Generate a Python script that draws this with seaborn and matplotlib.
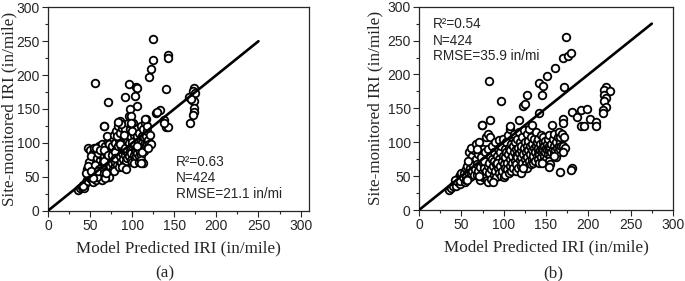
import numpy as np
import pandas as pd
import matplotlib
matplotlib.use("Agg")
import matplotlib.pyplot as plt
import seaborn as sns
from matplotlib.ticker import MultipleLocator

sns.set_style("ticks")
plt.rcParams["font.family"] = ["Liberation Sans", "DejaVu Sans"]

# ***** data read off the picture (predicted, observed) ***** #
# panel (a): main body around the 1:1 line
body_a = [
    (36, 31), (38, 33), (40, 35), (42, 38), (43, 34), (44, 40), (45, 42), (41, 36),
    (46, 45), (47, 50), (48, 44), (48, 55), (49, 60), (50, 48), (50, 65), (51, 52),
    (52, 70), (52, 45), (53, 58), (54, 62), (55, 50), (55, 75), (47, 92), (50, 90),
    (53, 85), (54, 42), (46, 62), (49, 72), (51, 80), (55, 93), (45, 55), (47, 66),
    (56, 55), (57, 60), (57, 45), (58, 65), (58, 78), (59, 52), (60, 70), (60, 88),
    (61, 58), (61, 95), (62, 48), (62, 75), (63, 65), (63, 82), (64, 55), (64, 98),
    (65, 60), (65, 72), (56, 68), (59, 85), (57, 92), (60, 62), (62, 90), (64, 45),
    (58, 50), (53, 48), (51, 58), (59, 58),
    (66, 62), (66, 80), (67, 55), (67, 125), (68, 70), (68, 95), (69, 65), (69, 85),
    (70, 58), (70, 75), (71, 102), (71, 68), (72, 90), (72, 50), (73, 78), (73, 62),
    (74, 105), (74, 72), (75, 85), (75, 60), (68, 48), (70, 110), (72, 98), (66, 90),
    (74, 66), (67, 74), (71, 82), (69, 56),
    (76, 70), (76, 95), (77, 80), (77, 62), (78, 112), (78, 75), (79, 88), (79, 66),
    (80, 100), (80, 72), (81, 118), (81, 82), (82, 68), (82, 92), (83, 125), (83, 78),
    (84, 105), (84, 88), (85, 132), (85, 70), (76, 82), (78, 58), (80, 86), (82, 110),
    (84, 64), (79, 78), (83, 96),
    (86, 80), (86, 115), (87, 95), (87, 72), (88, 85), (88, 122), (89, 100), (89, 76),
    (90, 90), (90, 68), (91, 108), (91, 82), (92, 120), (92, 95), (93, 74), (93, 88),
    (94, 102), (94, 78), (95, 85), (95, 130), (88, 65), (90, 112), (86, 98), (93, 62),
    (87, 128), (91, 92),
    (96, 80), (96, 100), (97, 88), (97, 120), (98, 92), (98, 75), (99, 108), (99, 85),
    (100, 95), (100, 72), (101, 130), (101, 98), (102, 82), (102, 112), (103, 90), (103, 76),
    (104, 105), (104, 88), (105, 95), (105, 120), (96, 140), (98, 128), (100, 118), (102, 70),
    (104, 80), (100, 102),
    (106, 85), (106, 110), (107, 92), (107, 100), (108, 80), (108, 115), (109, 98), (109, 88),
    (110, 105), (110, 125), (111, 92), (111, 82), (112, 110), (112, 100), (113, 120), (113, 95),
    (114, 108), (114, 88), (115, 130), (115, 100), (106, 95), (108, 72), (110, 75), (112, 86),
    (116, 110), (116, 95), (117, 118), (117, 102), (118, 98), (118, 125), (119, 105), (120, 98),
    (121, 112), (122, 98), (116, 135), (119, 92), (113, 70), (111, 71),
]
# panel (a): scattered points away from the body
outliers_a = [
    (124.6, 253), (124.6, 223), (122.7, 209), (119.9, 197), (142.5, 229), (142.5, 225),
    (140.5, 180), (55.4, 188), (96.2, 187), (104.9, 183), (105.5, 181), (103, 169),
    (91.8, 168), (71.2, 160), (105.7, 155), (97, 150), (98.8, 140), (98, 130),
    (66.5, 125), (114.8, 135), (83, 131), (128.6, 144), (132.5, 149), (130, 146),
    (137.3, 134), (139.7, 123), (142.5, 123), (138, 130),
    (174, 181), (172, 177), (175, 173), (168, 168), (171, 163), (174, 162),
    (174, 151), (173, 146), (172, 141), (169, 129), (170, 165),
]

# panel (b): main body, mostly under the 1:1 line
body_b = [
    (35, 30), (38, 33), (40, 36), (42, 40), (44, 35), (45, 45), (46, 42), (47, 48),
    (48, 38), (49, 52), (50, 46), (50, 55), (43, 45), (48, 43),
    (52, 48), (53, 55), (54, 42), (55, 60), (56, 50), (57, 65), (58, 56), (59, 85),
    (60, 62), (60, 48), (61, 70), (62, 55), (63, 80), (63, 58), (64, 67), (65, 52),
    (65, 88), (55, 45), (58, 72), (62, 92), (57, 44),
    (66, 60), (67, 75), (67, 98), (68, 52), (69, 68), (70, 82), (70, 58), (71, 100),
    (72, 64), (72, 45), (73, 78), (74, 55), (74, 125), (75, 70), (76, 90), (76, 48),
    (77, 62), (78, 85), (79, 58), (79, 108), (80, 75), (80, 45), (68, 90), (71, 50),
    (77, 72),
    (81, 65), (81, 112), (82, 42), (82, 90), (83, 70), (83, 55), (84, 80), (84, 108),
    (85, 60), (85, 46), (86, 75), (86, 95), (87, 65), (88, 52), (88, 85), (89, 72),
    (90, 58), (90, 100), (91, 68), (91, 48), (92, 80), (93, 62), (93, 90), (94, 55),
    (95, 75), (94, 104), (87, 42), (92, 70),
    (96, 65), (96, 85), (97, 50), (97, 95), (98, 72), (98, 58), (99, 80), (99, 105),
    (100, 68), (100, 48), (101, 90), (101, 62), (102, 78), (102, 52), (103, 85), (103, 100),
    (104, 70), (104, 60), (105, 110), (105, 82), (106, 92), (106, 55), (107, 75), (107, 120),
    (108, 65), (108, 88), (109, 98), (109, 58), (110, 80), (110, 70),
    (111, 95), (111, 62), (112, 85), (112, 112), (113, 72), (113, 100), (114, 80), (114, 58),
    (115, 90), (115, 68), (116, 105), (116, 78), (117, 62), (117, 92), (118, 84), (118, 115),
    (119, 74), (119, 100), (120, 88), (120, 65), (121, 95), (121, 78), (122, 108), (122, 70),
    (123, 82), (123, 60), (124, 92), (124, 118), (125, 75), (125, 100),
    (126, 85), (126, 68), (127, 95), (127, 112), (128, 78), (128, 62), (129, 88), (129, 102),
    (130, 72), (130, 120), (131, 82), (131, 95), (132, 68), (132, 108), (133, 88), (133, 75),
    (134, 98), (134, 125), (135, 80), (135, 70), (136, 92), (136, 105), (137, 85), (137, 72),
    (138, 95), (138, 115), (139, 80), (139, 100), (140, 88), (140, 75),
    (141, 92), (141, 105), (142, 82), (142, 70), (143, 98), (143, 88), (144, 110), (144, 78),
    (145, 92), (145, 85), (146, 100), (146, 72), (147, 88), (147, 108), (148, 95), (148, 80),
    (149, 85), (149, 102), (150, 92), (150, 75), (151, 98), (151, 88), (152, 82), (152, 105),
    (153, 95), (154, 88), (154, 110), (155, 92), (155, 80), (153, 72),
    (156, 98), (156, 85), (157, 125), (158, 90), (158, 105), (159, 82), (160, 95), (160, 112),
    (161, 88), (162, 100), (162, 78), (163, 92), (164, 108), (164, 85), (165, 95), (165, 115),
    (166, 90), (166, 100), (167, 108), (168, 95), (169, 112), (170, 95), (171, 108), (172, 92),
    (170, 85), (160, 80),
]
# panel (b): scattered points away from the body
outliers_b = [
    (173.4, 255), (169.5, 224), (176, 227), (180, 231), (161, 210), (151.4, 198),
    (142, 188), (146.7, 183), (145, 170), (171, 181), (82.6, 190), (96.7, 161),
    (127.8, 169), (123, 153), (125, 156), (118, 133), (83.7, 133), (74, 125),
    (142, 143), (107, 124), (169.5, 135), (169.5, 129), (181, 144),
    (187, 137), (191.8, 147), (198.6, 149), (191, 124), (195, 124), (202.5, 135),
    (208.8, 130), (209.6, 124), (220.6, 181), (219, 177), (225, 176), (218.5, 170),
    (220.6, 165), (218.5, 161), (221, 152), (217, 148), (217.4, 143),
    (181, 61.5), (179, 59), (166, 55.6), (155, 68), (153.7, 64), (145.8, 69),
    (121, 54), (123, 61.5),
]

stats_a = ["R\u00b2=0.63", "N=424", "RMSE=21.1 in/mi"]
stats_b = ["R\u00b2=0.54", "N=424", "RMSE=35.9 in/mi"]
line_end_a = 250
line_end_b = 275

df_a = pd.DataFrame(body_a + outliers_a, columns=["pred", "obs"])
df_b = pd.DataFrame(body_b + outliers_b, columns=["pred", "obs"])

fig = plt.figure(figsize=(6.85, 2.81), dpi=100)
ax_a = fig.add_axes([48 / 685, (281 - 210.7) / 281, (309 - 48) / 685, (210.7 - 7.3) / 281])
ax_b = fig.add_axes([419 / 685, (281 - 210) / 281, (673 - 419) / 685, (210 - 6.7) / 281])

serif = ["Liberation Serif", "DejaVu Serif"]

panels = [(ax_a, df_a, line_end_a, 310, -0.119), (ax_b, df_b, line_end_b, 300, -0.142)]
for ax, df, line_end, xmax, ylab_x in panels:
    sns.scatterplot(data=df, x="pred", y="obs", ax=ax, s=30, color="white",
                    edgecolor="black", linewidth=1.3, zorder=2)
    ax.plot([0, line_end], [0, line_end], color="black", lw=1.9, zorder=3)
    ax.set_xlim(0, xmax)
    ax.set_ylim(0, 300)
    ax.xaxis.set_major_locator(MultipleLocator(50))
    ax.yaxis.set_major_locator(MultipleLocator(50))
    ax.xaxis.set_minor_locator(MultipleLocator(25))
    ax.yaxis.set_minor_locator(MultipleLocator(25))
    ax.tick_params(which="major", direction="out", length=4, width=0.8, labelsize=10, pad=2)
    ax.tick_params(which="minor", direction="out", length=2, width=0.8)
    for sp in ax.spines.values():
        sp.set_linewidth(0.9)
        sp.set_visible(True)
    ax.set_xlabel("Model Predicted IRI (in/mile)", family=serif, fontsize=12.3)
    ax.set_ylabel("Site-monitored IRI (in/mile)", family=serif, fontsize=12.3)
    ax.xaxis.set_label_coords(0.5, -0.145)
    ax.yaxis.set_label_coords(ylab_x, 0.5)

for txt, yv in zip(stats_a, [72, 48, 25]):
    ax_a.text(152, yv, txt, fontsize=9.8, va="center", ha="left")
for txt, yv in zip(stats_b, [274, 250, 227]):
    ax_b.text(16, yv, txt, fontsize=9.8, va="center", ha="left")

fig.text(165 / 685, 1 - 273 / 281, "(a)", family=serif, fontsize=12.3, ha="center", va="center")
fig.text(553 / 685, 1 - 273 / 281, "(b)", family=serif, fontsize=12.3, ha="center", va="center")

fig.savefig("out.png", dpi=100)
